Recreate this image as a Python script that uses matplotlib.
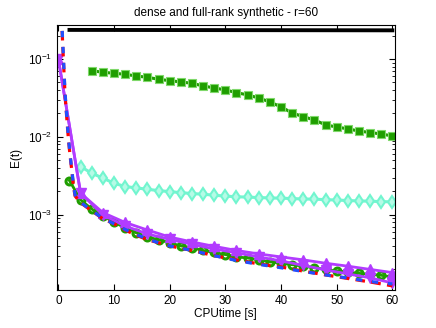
import numpy as np
import matplotlib
matplotlib.use('Agg')
import matplotlib.pyplot as plt

plt.rcParams['font.family'] = ['Liberation Sans', 'DejaVu Sans']
plt.rcParams['mathtext.default'] = 'regular'

# black line (no markers)
black_t = [2, 20, 40, 60]
black_e = [0.236, 0.235, 0.234, 0.233]

# green squares
sq_t = list(range(6, 61, 2))
sq_e = [0.0708, 0.0675, 0.0656, 0.0636, 0.0605, 0.0582, 0.0549, 0.0527, 0.0507, 0.0488,
        0.0451, 0.0425, 0.0401, 0.0370, 0.0346, 0.0316, 0.0281, 0.0243, 0.0203, 0.0182,
        0.0165, 0.0143, 0.0134, 0.0127, 0.0119, 0.0114, 0.0109, 0.0103]

# cyan diamonds
dia_t = list(range(4, 61, 2))
dia_e = [0.00416, 0.00343, 0.00296, 0.00255, 0.00231, 0.00222, 0.00213, 0.00205, 0.00199,
         0.00193, 0.00188, 0.00184, 0.00179, 0.00174, 0.00171, 0.00169, 0.00167, 0.00165,
         0.00164, 0.00162, 0.0016, 0.00159, 0.00157, 0.00155, 0.00153, 0.00151, 0.0015,
         0.00148, 0.00147]

# green circles
circ_t = list(range(2, 61, 2))
circ_e = [0.00275, 0.00156, 0.00119, 0.00097, 0.00081, 0.00068, 0.00059, 0.00052, 0.00048,
          0.00044, 0.00040, 0.00038, 0.00035, 0.00033, 0.00031, 0.00029, 0.00028, 0.000265,
          0.00025, 0.00024, 0.00023, 0.00022, 0.00021, 0.0002, 0.00019, 0.000186, 0.000178,
          0.000173, 0.000168, 0.00016]

# purple triangles up / down
tri_t = list(range(0, 61, 4))
triup_e = [0.1, 0.0019, 0.00107, 0.0008, 0.00064, 0.00052, 0.00045, 0.000395, 0.00035,
           0.000316, 0.000289, 0.000265, 0.00024, 0.00022, 0.0002, 0.000182]
tridn_e = [0.1, 0.0019, 0.001, 0.00072, 0.00057, 0.000485, 0.00042, 0.000366, 0.000326,
           0.000289, 0.000257, 0.000225, 0.000197, 0.000175, 0.000156, 0.000134]

# red dashed and blue dash-dot (no markers)
rb_t = [0.4, 0.6, 0.9, 1.2, 1.5, 1.8, 2.1, 2.4, 2.7, 3, 4, 5, 6, 8, 10, 12, 14, 16, 18, 20,
        24, 28, 32, 36, 40, 44, 48, 52, 56, 60]
red_e = [0.6, 0.3, 0.1, 0.035, 0.018, 0.0095, 0.0058, 0.0038, 0.0024, 0.00175, 0.00143,
         0.00127, 0.00113, 0.00089, 0.00077, 0.00064, 0.00055, 0.00048, 0.00044, 0.0004,
         0.00035, 0.0003, 0.000265, 0.000235, 0.000215, 0.00019, 0.00017, 0.000153,
         0.000138, 0.000123]
blue_e = [0.65, 0.32, 0.11, 0.037, 0.019, 0.01, 0.006, 0.0039, 0.0025, 0.0018, 0.00145,
          0.00128, 0.00114, 0.0009, 0.00077, 0.00065, 0.00056, 0.00049, 0.00044, 0.0004,
          0.00035, 0.0003, 0.00026, 0.000232, 0.00021, 0.000188, 0.00017, 0.000155,
          0.00014, 0.00013]

green = '#1f9e00'
cyan = '#72f5cf'
purple = '#b23cff'

fig = plt.figure(figsize=(4.36, 3.28), dpi=100)
ax = fig.add_axes([0.13, 0.116, 0.775, 0.809])

ax.semilogy(black_t, black_e, '-', color='black', lw=2.8)
ax.semilogy(sq_t, sq_e, '-s', color=green, lw=2.2, ms=5.5, mew=0.8, mec='#7fd86a')
ax.semilogy(dia_t, dia_e, '-d', color=cyan, lw=2.2, ms=6, mfc='#b5fbe6', mew=1.5)
ax.semilogy(circ_t, circ_e, '-o', color=green, lw=2, ms=5, mfc='none', mew=2.2)
ax.semilogy(tri_t, triup_e, '-^', color=purple, lw=2, ms=7)
ax.semilogy(tri_t, tridn_e, '-v', color=purple, lw=2, ms=7)
ax.semilogy(rb_t, red_e, '--', color='red', lw=2.3, dashes=(3, 2))
ax.semilogy(rb_t, blue_e, '-.', color='#2050ff', lw=2.3, dashes=(2, 3))

ax.set_xlim(-0.3, 60.4)
ax.set_ylim(1.09e-4, 0.276)
ax.set_xticks(range(0, 61, 10))
ax.tick_params(which='both', direction='in', top=True, right=True, labelsize=8.5)
ax.tick_params(which='major', length=4)
ax.tick_params(which='minor', length=2)

ax.set_title('dense and full-rank synthetic - r=60', fontsize=8.5)
ax.set_xlabel('CPUtime [s]', fontsize=8.5, labelpad=1)
ax.set_ylabel('E(t)', fontsize=8.5)

plt.savefig('out.png', dpi=100)
